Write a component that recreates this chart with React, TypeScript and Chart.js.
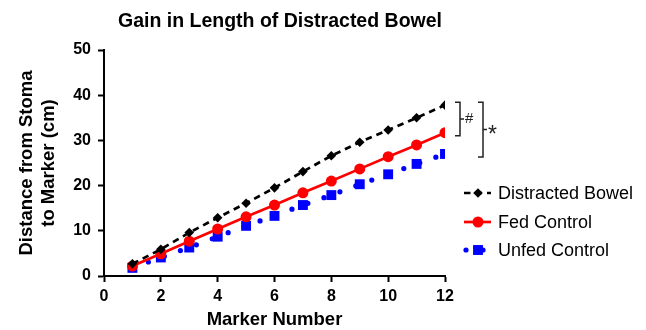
import React, { useEffect, useRef } from 'react';
import { Chart, registerables } from 'chart.js';

Chart.register(...registerables);

const markerNumbers = [1, 2, 3, 4, 5, 6, 7, 8, 9, 10, 11, 12];
const distractedBowel = [2.7, 5.9, 9.6, 12.9, 16.1, 19.5, 23.1, 26.6, 29.6, 32.3, 35.0, 37.8];
const fedControl = [2.2, 4.9, 7.7, 10.4, 13.1, 15.7, 18.4, 21.0, 23.7, 26.4, 29.0, 31.7];
const unfedControl = [1.8, 4.1, 6.3, 8.7, 11.1, 13.3, 15.7, 17.9, 20.3, 22.5, 24.8, 27.0];
const seriesLabels = ['Distracted Bowel', 'Fed Control', 'Unfed Control'];
const xTickMin = 0;
const xTickMax = 12;
const xTickStep = 2;
const yTickMin = 0;
const yTickMax = 50;
const yTickStep = 10;
const chartTitle = 'Gain in Length of Distracted Bowel';
const xAxisTitle = 'Marker Number';
const yAxisTitle = ['Distance from Stoma', 'to Marker (cm)'];
const significanceLabels = ['#', '*'];

const FONT = '"Liberation Sans", Arial, Helvetica, sans-serif';

function drawMarker(ctx: CanvasRenderingContext2D, style: string, x: number, y: number, r: number, color: string) {
  ctx.save();
  ctx.fillStyle = color;
  ctx.beginPath();
  if (style === 'rectRot') {
    ctx.moveTo(x, y - r);
    ctx.lineTo(x + r, y);
    ctx.lineTo(x, y + r);
    ctx.lineTo(x - r, y);
    ctx.closePath();
  } else if (style === 'circle') {
    ctx.arc(x, y, r, 0, Math.PI * 2);
  } else {
    const s = Math.SQRT1_2 * r;
    ctx.rect(x - s, y - s, 2 * s, 2 * s);
  }
  ctx.fill();
  ctx.restore();
}

const extrasPlugin = {
  id: 'extras',
  afterDraw(chart: any) {
    const ctx: CanvasRenderingContext2D = chart.ctx;
    const xs = chart.scales.x;
    const ys = chart.scales.y;
    ctx.save();
    // Title
    ctx.fillStyle = '#000';
    ctx.font = `bold 19.5px ${FONT}`;
    ctx.textAlign = 'center';
    ctx.textBaseline = 'middle';
    ctx.fillText(chartTitle, 280, 22);

    // Significance brackets
    const lastIdx = markerNumbers.length - 1;
    const yD = ys.getPixelForValue(distractedBowel[lastIdx]);
    const yF = ys.getPixelForValue(fedControl[lastIdx]);
    const yU = ys.getPixelForValue(unfedControl[lastIdx]);
    const xEnd = xs.getPixelForValue(markerNumbers[lastIdx]);
    ctx.strokeStyle = '#222';
    ctx.lineWidth = 1.5;
    const bracket = (x0: number, top: number, bottom: number, label: string, fontSize: number, dy: number) => {
      const t = top - 3;
      const b = bottom + 3;
      const mid = (t + b) / 2;
      ctx.beginPath();
      ctx.moveTo(x0, t);
      ctx.lineTo(x0 + 5, t);
      ctx.lineTo(x0 + 5, b);
      ctx.lineTo(x0, b);
      ctx.moveTo(x0 + 5, mid);
      ctx.lineTo(x0 + 9, mid);
      ctx.stroke();
      ctx.fillStyle = '#222';
      ctx.font = `${fontSize}px ${FONT}`;
      ctx.textAlign = 'left';
      ctx.textBaseline = 'middle';
      ctx.fillText(label, x0 + 10, mid + dy);
    };
    bracket(xEnd + 10, yD, yF, significanceLabels[0], 15, 0);
    bracket(xEnd + 33, yD, yU, significanceLabels[1], 23, 6);

    // Legend
    const rows = [193, 222, 250];
    const x0 = 464;
    const x1 = 491;
    const xm = 478;
    chart.data.datasets.forEach((ds: any, i: number) => {
      const y = rows[i];
      ctx.save();
      ctx.strokeStyle = ds.borderColor;
      ctx.lineWidth = ds.borderWidth;
      ctx.lineCap = ds.borderCapStyle || 'butt';
      ctx.setLineDash(ds.borderDash || []);
      ctx.beginPath();
      const start = ds.borderCapStyle === 'round' ? x0 + 2 : x0;
      ctx.moveTo(start, y);
      ctx.lineTo(x1, y);
      ctx.stroke();
      ctx.restore();
      drawMarker(ctx, ds.pointStyle, xm, y, ds.pointRadius, ds.pointBackgroundColor);
      ctx.fillStyle = '#000';
      ctx.font = `18px ${FONT}`;
      ctx.textAlign = 'left';
      ctx.textBaseline = 'middle';
      ctx.fillText(ds.label, 498, y + 1);
    });
    ctx.restore();
  },
};

export default function App() {
  const canvasRef = useRef<HTMLCanvasElement | null>(null);

  useEffect(() => {
    if (!canvasRef.current) return;
    const toPoints = (vals: number[]) => markerNumbers.map((m, i) => ({ x: m, y: vals[i] }));
    const chart = new Chart(canvasRef.current, {
      type: 'line',
      data: {
        datasets: [
          {
            label: seriesLabels[0],
            data: toPoints(distractedBowel),
            borderColor: '#000000',
            backgroundColor: '#000000',
            borderWidth: 2.7,
            borderDash: [6.5, 5],
            pointStyle: 'rectRot',
            pointRadius: 4.8,
            pointBackgroundColor: '#000000',
            pointBorderWidth: 0,
            order: 1,
          },
          {
            label: seriesLabels[1],
            data: toPoints(fedControl),
            borderColor: '#ff0000',
            backgroundColor: '#ff0000',
            borderWidth: 2.7,
            pointStyle: 'circle',
            pointRadius: 5.5,
            pointBackgroundColor: '#ff0000',
            pointBorderWidth: 0,
            order: 2,
          },
          {
            label: seriesLabels[2],
            data: toPoints(unfedControl),
            borderColor: '#0000ff',
            backgroundColor: '#0000ff',
            borderWidth: 5.2,
            borderDash: [0, 17],
            borderCapStyle: 'round',
            pointStyle: 'rect',
            pointRadius: 7,
            pointBackgroundColor: '#0000ff',
            pointBorderWidth: 0,
            order: 3,
          },
        ] as any,
      },
      options: {
        animation: false,
        responsive: true,
        maintainAspectRatio: false,
        layout: { padding: { left: 0, right: 201, top: 50, bottom: 0 } },
        plugins: {
          legend: { display: false },
          title: { display: false },
          tooltip: { enabled: false },
        },
        scales: {
          x: {
            type: 'linear',
            min: xTickMin,
            max: xTickMax,
            ticks: {
              stepSize: xTickStep,
              color: '#000',
              font: { family: FONT, size: 16, weight: 'bold' },
              padding: 5,
              maxRotation: 0,
            },
            grid: {
              drawOnChartArea: false,
              drawTicks: true,
              tickLength: 6,
              tickColor: '#000',
              tickWidth: 2,
            },
            border: { color: '#000', width: 2 },
            title: {
              display: true,
              text: xAxisTitle,
              color: '#000',
              font: { family: FONT, size: 18.5, weight: 'bold', lineHeight: 1.1 },
              padding: { top: 0, bottom: 0 },
            },
            afterFit(scale: any) {
              scale.height = 54;
            },
          },
          y: {
            type: 'linear',
            min: yTickMin,
            max: yTickMax,
            ticks: {
              stepSize: yTickStep,
              color: '#000',
              font: { family: FONT, size: 16, weight: 'bold' },
              padding: 7,
            },
            grid: {
              drawOnChartArea: false,
              drawTicks: true,
              tickLength: 6,
              tickColor: '#000',
              tickWidth: 2,
            },
            border: { color: '#000', width: 2 },
            title: {
              display: true,
              text: yAxisTitle,
              color: '#000',
              font: { family: FONT, size: 18.5, weight: 'bold', lineHeight: 1.19 },
              padding: { top: 16, bottom: 0 },
            },
            afterFit(scale: any) {
              scale.width = 104;
            },
          },
        },
      } as any,
      plugins: [extrasPlugin],
    });
    return () => chart.destroy();
  }, []);

  return (
    <div style={{ position: 'absolute', left: 0, top: 0, width: 646, height: 330 }}>
      <canvas ref={canvasRef} />
    </div>
  );
}
